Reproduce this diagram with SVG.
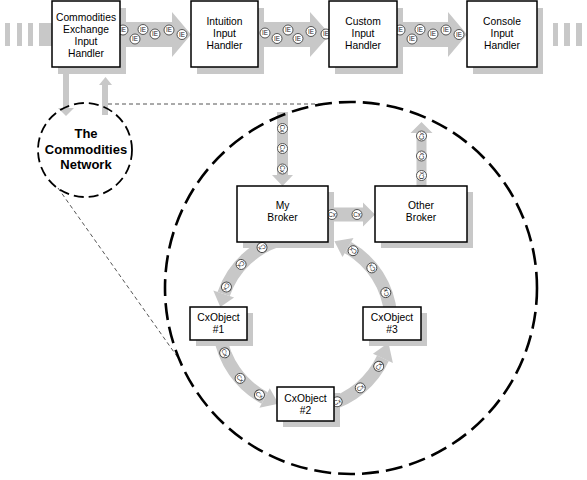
<svg xmlns="http://www.w3.org/2000/svg" width="587" height="480" viewBox="0 0 587 480">
<style>
.sh{fill:#c8c8c8}
.ar{fill:#c8c8c8;stroke:none}
.band{fill:none;stroke:#c8c8c8;stroke-width:13}
.box{fill:#fff;stroke:#000;stroke-width:1.5}
.lbl{font-family:"Liberation Sans",Arial,Helvetica,sans-serif;font-size:10.3px;text-anchor:middle;fill:#000}
.net{font-family:"Liberation Sans",Arial,Helvetica,sans-serif;font-size:13px;font-weight:bold;text-anchor:middle;fill:#000}
.tok circle{fill:#fff;stroke:#444;stroke-width:0.9}
.tok text{font-family:"Liberation Sans",Arial,sans-serif;font-size:6.3px;text-anchor:middle;fill:#222}
.dl{fill:none;stroke:#555;stroke-width:1;stroke-dasharray:4 3}
</style>

<g id="shadows">
<rect class="sh" x="58" y="8" width="68" height="66"/>
<rect class="sh" x="197" y="8" width="67" height="66"/>
<rect class="sh" x="335" y="8" width="68" height="66"/>
<rect class="sh" x="473" y="8" width="70" height="66"/>
<rect class="sh" x="243" y="192" width="91" height="56"/>
<rect class="sh" x="381" y="192" width="92" height="56"/>
<rect class="sh" x="196" y="313" width="57" height="33"/>
<rect class="sh" x="369" y="313" width="58" height="33"/>
<rect class="sh" x="283" y="393" width="57" height="34"/>
</g>

<g id="connectors">
<!-- top row stripes -->
<rect class="ar" x="5" y="23" width="5" height="23"/>
<rect class="ar" x="17" y="23" width="5" height="23"/>
<rect class="ar" x="28" y="23" width="5" height="23"/>
<rect class="ar" x="39" y="23" width="14" height="23"/>
<rect class="ar" x="553" y="23" width="5" height="23"/>
<rect class="ar" x="564" y="23" width="6" height="23"/>
<rect class="ar" x="576" y="23" width="6" height="23"/>
<!-- top row arrows -->
<path class="ar" d="M119 22 H172 V12 L191 34.5 L172 57 V47 H119 Z"/>
<path class="ar" d="M257 22 H310 V12 L330 34.5 L310 57 V47 H257 Z"/>
<path class="ar" d="M396 22 H448 V12 L467 34.5 L448 57 V47 H396 Z"/>
<!-- box1 to network and back -->
<path class="ar" d="M63 66 H69 V108 H74 L66 116 L58 108 H63 Z"/>
<path class="ar" d="M102 115 V85 H99 L105.5 77 L112 85 H108 V115 Z"/>
<!-- dashed zoom lines -->
<path class="dl" d="M108 104 H323"/>
<path class="dl" d="M58 188 L181 362"/>
<!-- into My Broker -->
<path class="ar" d="M277 112 H288 V175 H293 L282.5 186 L272 175 H277 Z"/>
<!-- out of Other Broker -->
<path class="ar" d="M416.5 187 V133 H410.5 L421.5 122 L432.5 133 H426.5 V187 Z"/>
<!-- My Broker to Other Broker -->
<path class="ar" d="M327 207.5 H363 V202.5 L375 214.5 L363 226.5 V221.5 H327 Z"/>
<!-- ring arcs -->
<path class="band" d="M282.74 238.93 A86 86 0 0 0 223.68 294.0"/>
<polygon class="ar" points="234.09,297.58 213.29,290.42 220.31,307.07"/>
<path class="band" d="M219.84 333.97 A86 86 0 0 0 264.62 397.93"/>
<polygon class="ar" points="269.79,388.22 259.46,407.64 278.43,403.79"/>
<path class="band" d="M327.26 405.07 A86 86 0 0 0 382.94 358.34"/>
<polygon class="ar" points="372.97,353.70 392.91,362.99 388.45,342.81"/>
<path class="band" d="M390.67 314.50 A86 86 0 0 0 348 247.52"/>
<polygon class="ar" points="342.5,257.05 353.5,237.99 334.41,241.19"/>

<!-- IE tokens -->
<g class="tok" transform="translate(123,30)"><circle r="5"/><text y="2.2">IE</text></g>
<g class="tok" transform="translate(135,39)"><circle r="5"/><text y="2.2">IE</text></g>
<g class="tok" transform="translate(143,29.5)"><circle r="5"/><text y="2.2">IE</text></g>
<g class="tok" transform="translate(155,34)"><circle r="5"/><text y="2.2">IE</text></g>
<g class="tok" transform="translate(169,30)"><circle r="5"/><text y="2.2">IE</text></g>
<g class="tok" transform="translate(182,34.5)"><circle r="5"/><text y="2.2">IE</text></g>

<g class="tok" transform="translate(265,33)"><circle r="5"/><text y="2.2">IE</text></g>
<g class="tok" transform="translate(277,38.5)"><circle r="5"/><text y="2.2">IE</text></g>
<g class="tok" transform="translate(288,30)"><circle r="5"/><text y="2.2">IE</text></g>
<g class="tok" transform="translate(298,38.5)"><circle r="5"/><text y="2.2">IE</text></g>
<g class="tok" transform="translate(311,31.5)"><circle r="5"/><text y="2.2">IE</text></g>
<g class="tok" transform="translate(326,34)"><circle r="5"/><text y="2.2">IE</text></g>

<g class="tok" transform="translate(400,30)"><circle r="5"/><text y="2.2">IE</text></g>
<g class="tok" transform="translate(412,39)"><circle r="5"/><text y="2.2">IE</text></g>
<g class="tok" transform="translate(420,29.5)"><circle r="5"/><text y="2.2">IE</text></g>
<g class="tok" transform="translate(433,34)"><circle r="5"/><text y="2.2">IE</text></g>
<g class="tok" transform="translate(446,30)"><circle r="5"/><text y="2.2">IE</text></g>
<g class="tok" transform="translate(459,34.5)"><circle r="5"/><text y="2.2">IE</text></g>

<!-- Cx tokens -->
<g class="tok" transform="translate(282.5,128.5) rotate(90)"><circle r="5"/><text y="2.2">Cx</text></g>
<g class="tok" transform="translate(282.5,148.5) rotate(90)"><circle r="5"/><text y="2.2">Cx</text></g>
<g class="tok" transform="translate(282.5,169) rotate(90)"><circle r="5"/><text y="2.2">Cx</text></g>

<g class="tok" transform="translate(421.5,136) rotate(-90)"><circle r="5"/><text y="2.2">Cx</text></g>
<g class="tok" transform="translate(421.5,156) rotate(-90)"><circle r="5"/><text y="2.2">Cx</text></g>
<g class="tok" transform="translate(421.5,175.5) rotate(-90)"><circle r="5"/><text y="2.2">Cx</text></g>

<g class="tok" transform="translate(332,214.5)"><circle r="5"/><text y="2.2">Cx</text></g>
<g class="tok" transform="translate(357,214.5)"><circle r="5"/><text y="2.2">Cx</text></g>

<g class="tok" transform="translate(262,247.5) rotate(150)"><circle r="5"/><text y="2.2">Cx</text></g>
<g class="tok" transform="translate(241.09,264.46) rotate(132)"><circle r="5"/><text y="2.2">Cx</text></g>
<g class="tok" transform="translate(226.44,287.02) rotate(114)"><circle r="5"/><text y="2.2">Cx</text></g>

<g class="tok" transform="translate(224.71,352.82) rotate(69)"><circle r="5"/><text y="2.2">Cx</text></g>
<g class="tok" transform="translate(240.10,378.42) rotate(49)"><circle r="5"/><text y="2.2">Cx</text></g>
<g class="tok" transform="translate(259.43,394.93) rotate(32)"><circle r="5"/><text y="2.2">Cx</text></g>

<g class="tok" transform="translate(337.22,401.74) rotate(-22)"><circle r="5"/><text y="2.2">Cx</text></g>
<g class="tok" transform="translate(360.28,387.88) rotate(-40)"><circle r="5"/><text y="2.2">Cx</text></g>
<g class="tok" transform="translate(378.72,366.29) rotate(-59)"><circle r="5"/><text y="2.2">Cx</text></g>

<g class="tok" transform="translate(385.81,292.59) rotate(250)"><circle r="5"/><text y="2.2">Cx</text></g>
<g class="tok" transform="translate(371.83,267.88) rotate(231)"><circle r="5"/><text y="2.2">Cx</text></g>
<g class="tok" transform="translate(353.09,250.70) rotate(214)"><circle r="5"/><text y="2.2">Cx</text></g>
</g>

<g id="network">
<circle cx="85" cy="150" r="47" fill="none" stroke="#000" stroke-width="1.8" stroke-dasharray="10 5"/>
<text class="net" x="86" y="138">The</text>
<text class="net" x="86" y="154">Commodities</text>
<text class="net" x="86" y="169">Network</text>
</g>

<g id="zoom-circle">
<circle cx="351" cy="288" r="186" fill="none" stroke="#000" stroke-width="2.6" stroke-dasharray="17 7"/>
</g>

<g id="cx-handler">
<rect class="box" x="52" y="1" width="68" height="66"/>
<text class="lbl" x="86" y="20.5">Commodities</text>
<text class="lbl" x="86" y="32.5">Exchange</text>
<text class="lbl" x="86" y="44.5">Input</text>
<text class="lbl" x="86" y="56.5">Handler</text>
</g>
<g id="intuition-handler">
<rect class="box" x="191" y="1" width="67" height="66"/>
<text class="lbl" x="224.5" y="24.5">Intuition</text>
<text class="lbl" x="224.5" y="36.5">Input</text>
<text class="lbl" x="224.5" y="48.5">Handler</text>
</g>
<g id="custom-handler">
<rect class="box" x="329" y="1" width="68" height="66"/>
<text class="lbl" x="363" y="24.5">Custom</text>
<text class="lbl" x="363" y="36.5">Input</text>
<text class="lbl" x="363" y="48.5">Handler</text>
</g>
<g id="console-handler">
<rect class="box" x="467" y="1" width="70" height="66"/>
<text class="lbl" x="502" y="24.5">Console</text>
<text class="lbl" x="502" y="36.5">Input</text>
<text class="lbl" x="502" y="48.5">Handler</text>
</g>

<g id="my-broker">
<rect class="box" x="237" y="186" width="91" height="56"/>
<text class="lbl" x="282.5" y="209">My</text>
<text class="lbl" x="282.5" y="221">Broker</text>
</g>
<g id="other-broker">
<rect class="box" x="375" y="186" width="92" height="56"/>
<text class="lbl" x="421" y="209">Other</text>
<text class="lbl" x="421" y="221">Broker</text>
</g>
<g id="cxobject-1">
<rect class="box" x="190" y="307" width="57" height="33"/>
<text class="lbl" x="218.5" y="321">CxObject</text>
<text class="lbl" x="218.5" y="333">#1</text>
</g>
<g id="cxobject-3">
<rect class="box" x="363" y="307" width="58" height="33"/>
<text class="lbl" x="392" y="321">CxObject</text>
<text class="lbl" x="392" y="333">#3</text>
</g>
<g id="cxobject-2">
<rect class="box" x="277" y="387" width="57" height="34"/>
<text class="lbl" x="305.5" y="401.5">CxObject</text>
<text class="lbl" x="305.5" y="413.5">#2</text>
</g>
</svg>
